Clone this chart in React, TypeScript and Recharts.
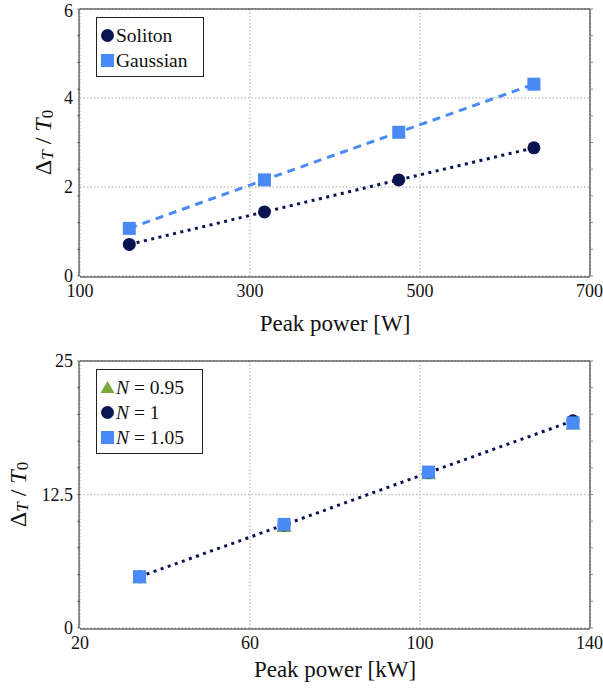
import React from "react";
import {
  ComposedChart,
  Line,
  XAxis,
  YAxis,
  CartesianGrid,
  Legend,
} from "recharts";

// top panel: peak power in W
const powerW = [158, 317, 475, 634];
const solitonSpread = [0.71, 1.44, 2.16, 2.88];
const gaussianSpread = [1.07, 2.16, 3.23, 4.31];
const ticksW = [100, 300, 500, 700];
const ticksSpreadTop = [0, 2, 4, 6];

// bottom panel: peak power in kW
const powerKW = [34, 68, 102, 136];
const spreadN095 = [4.7, 9.5, 14.45, 19.1];
const spreadN1 = [4.8, 9.65, 14.55, 19.4];
const spreadN105 = [4.8, 9.7, 14.6, 19.2];
const ticksKW = [20, 60, 100, 140];
const ticksSpreadBottom = [0, 12.5, 25];

const NAVY = "#0a1450";
const BLUE = "#4a8af7";
const GREEN = "#7aa83a";
const FONT = "Liberation Serif";

const topData = powerW.map((p, i) => ({
  p,
  soliton: solitonSpread[i],
  gaussian: gaussianSpread[i],
}));
const bottomData = powerKW.map((p, i) => ({
  p,
  n095: spreadN095[i],
  n1: spreadN1[i],
  n105: spreadN105[i],
}));

const range = (a: number, b: number, step: number) => {
  const out: number[] = [];
  for (let v = a; v <= b + 1e-9; v += step) out.push(Math.round(v * 1000) / 1000);
  return out;
};

const circleDot = (color: string) => (props: any) => {
  const { cx, cy, index } = props;
  if (cx == null || cy == null) return <g key={index} />;
  return <circle key={index} cx={cx} cy={cy} r={6.5} fill={color} />;
};
const squareDot = (color: string) => (props: any) => {
  const { cx, cy, index } = props;
  if (cx == null || cy == null) return <g key={index} />;
  return <rect key={index} x={cx - 6.5} y={cy - 6.5} width={13} height={13} fill={color} />;
};
const triangleDot = (color: string) => (props: any) => {
  const { cx, cy, index } = props;
  if (cx == null || cy == null) return <g key={index} />;
  return (
    <polygon
      key={index}
      points={`${cx},${cy - 7.5} ${cx + 7.5},${cy + 5.5} ${cx - 7.5},${cy + 5.5}`}
      fill={color}
    />
  );
};

function YTitle({ viewBox, x }: any) {
  const cy = viewBox.y + viewBox.height / 2;
  return (
    <text
      x={x}
      y={cy}
      transform={`rotate(-90, ${x}, ${cy})`}
      textAnchor="middle"
      dominantBaseline="central"
      fontFamily={FONT}
      fontSize={24}
      fill="#111"
    >
      Δ
      <tspan fontStyle="italic" fontSize={17} dy={4}>
        T
      </tspan>
      <tspan dy={-4}> / </tspan>
      <tspan fontStyle="italic">T</tspan>
      <tspan fontSize={17} dy={4}>
        0
      </tspan>
    </text>
  );
}

function XTitle({ viewBox, dy, text }: any) {
  return (
    <text
      x={viewBox.x + viewBox.width / 2}
      y={viewBox.y + dy}
      textAnchor="middle"
      dominantBaseline="central"
      fontFamily={FONT}
      fontSize={23}
      fill="#111"
    >
      {text}
    </text>
  );
}

function LegendBox({ rows, width }: { rows: { marker: React.ReactNode; label: React.ReactNode }[]; width: number }) {
  return (
    <div
      style={{
        boxSizing: "border-box",
        width,
        border: "1px solid #222",
        background: "#fff",
        padding: "5px 4px 3px 3px",
        fontFamily: FONT,
        fontSize: 19.5,
        color: "#111",
      }}
    >
      {rows.map((r, i) => (
        <div key={i} style={{ display: "flex", alignItems: "center", height: 25, whiteSpace: "nowrap" }}>
          <svg width={15} height={15} style={{ marginRight: 1 }}>
            {r.marker}
          </svg>
          <span>{r.label}</span>
        </div>
      ))}
    </div>
  );
}

const tickStyle = { fontFamily: FONT, fontSize: 18, fill: "#111" };
const noLabel = () => <g />;

// minor tick marks on all four sides, plus the top/right frame lines
function minorAxes(xDomain: number[], yDomain: number[], xMinor: number[], yMinor: number[], key: string) {
  const common = {
    type: "number" as const,
    allowDataOverflow: true,
    tick: noLabel,
    tickSize: 3,
    tickLine: { stroke: "#8a8a8a" },
  };
  return [
    <XAxis key="mb" xAxisId="mb" orientation="bottom" height={1} domain={xDomain} ticks={xMinor} axisLine={false} {...common} />,
    <XAxis key="mt" xAxisId="mt" orientation="top" height={1} domain={xDomain} ticks={xMinor} axisLine={{ stroke: "#222" }} {...common} />,
    <YAxis key="ml" yAxisId="ml" orientation="left" width={1} domain={yDomain} ticks={yMinor} axisLine={false} {...common} />,
    <YAxis key="mr" yAxisId="mr" orientation="right" width={1} domain={yDomain} ticks={yMinor} axisLine={{ stroke: "#222" }} {...common} />,
    <Line key="hb" xAxisId="mb" yAxisId="ml" dataKey={key} stroke="none" dot={false} activeDot={false} legendType="none" isAnimationActive={false} />,
    <Line key="ht" xAxisId="mt" yAxisId="mr" dataKey={key} stroke="none" dot={false} activeDot={false} legendType="none" isAnimationActive={false} />,
  ];
}

function TopChart() {
  return (
    <ComposedChart
      width={603}
      height={340}
      data={topData}
      margin={{ top: 8, right: 12, bottom: 0, left: 0 }}
    >
      {minorAxes([100, 700], [0, 6], range(100, 700, 5), range(0, 6, 0.2), "soliton")}
      <CartesianGrid xAxisId="x" yAxisId="y" stroke="#c4c4c4" strokeWidth={1.5} strokeDasharray="1.5 2" />
      <XAxis
        xAxisId="x"
        dataKey="p"
        type="number"
        domain={[100, 700]}
        ticks={ticksW}
        height={63}
        tickSize={0}
        tickMargin={7}
        tick={tickStyle}
        axisLine={{ stroke: "#222" }}
        label={{ content: (p: any) => <XTitle {...p} dy={46} text="Peak power [W]" /> }}
      />
      <YAxis
        yAxisId="y"
        type="number"
        domain={[0, 6]}
        ticks={ticksSpreadTop}
        width={79}
        tickSize={0}
        tickMargin={6}
        tick={tickStyle}
        axisLine={{ stroke: "#222" }}
        label={{ content: (p: any) => <YTitle {...p} x={43} /> }}
      />
      <Legend
        layout="horizontal"
        verticalAlign="middle"
        wrapperStyle={{ left: 96, top: 17, width: "auto" }}
        content={() => (
          <LegendBox
            width={108}
            rows={[
              { marker: <circle cx={7.5} cy={7.5} r={6.5} fill={NAVY} />, label: "Soliton" },
              { marker: <rect x={1} y={1} width={13} height={13} fill={BLUE} />, label: "Gaussian" },
            ]}
          />
        )}
      />
      <Line
        xAxisId="x"
        yAxisId="y"
        dataKey="soliton"
        stroke={NAVY}
        strokeWidth={3}
        strokeDasharray="3 4.5"
        dot={circleDot(NAVY)}
        isAnimationActive={false}
      />
      <Line
        xAxisId="x"
        yAxisId="y"
        dataKey="gaussian"
        stroke={BLUE}
        strokeWidth={3}
        strokeDasharray="8 6"
        dot={squareDot(BLUE)}
        isAnimationActive={false}
      />
    </ComposedChart>
  );
}

function NLabel({ v }: { v: string }) {
  return (
    <>
      <i>N</i> = {v}
    </>
  );
}

function BottomChart() {
  return (
    <ComposedChart
      width={603}
      height={349}
      data={bottomData}
      margin={{ top: 20, right: 12, bottom: 0, left: 0 }}
    >
      {minorAxes([20, 140], [0, 25], range(20, 140, 1), range(0, 25, 0.5), "n1")}
      <CartesianGrid xAxisId="x" yAxisId="y" stroke="#c4c4c4" strokeWidth={1.5} strokeDasharray="1.5 2" />
      <XAxis
        xAxisId="x"
        dataKey="p"
        type="number"
        domain={[20, 140]}
        ticks={ticksKW}
        height={60}
        tickSize={0}
        tickMargin={7}
        tick={tickStyle}
        axisLine={{ stroke: "#222" }}
        label={{ content: (p: any) => <XTitle {...p} dy={40} text="Peak power [kW]" /> }}
      />
      <YAxis
        yAxisId="y"
        type="number"
        domain={[0, 25]}
        ticks={ticksSpreadBottom}
        width={79}
        tickSize={0}
        tickMargin={6}
        tick={tickStyle}
        axisLine={{ stroke: "#222" }}
        label={{ content: (p: any) => <YTitle {...p} x={18} /> }}
      />
      <Legend
        layout="horizontal"
        verticalAlign="middle"
        wrapperStyle={{ left: 96, top: 29, width: "auto" }}
        content={() => (
          <LegendBox
            width={107}
            rows={[
              {
                marker: <polygon points="7.5,1 14.5,13 0.5,13" fill={GREEN} />,
                label: <NLabel v="0.95" />,
              },
              { marker: <circle cx={7.5} cy={7.5} r={6.5} fill={NAVY} />, label: <NLabel v="1" /> },
              { marker: <rect x={1} y={1} width={13} height={13} fill={BLUE} />, label: <NLabel v="1.05" /> },
            ]}
          />
        )}
      />
      <Line
        xAxisId="x"
        yAxisId="y"
        dataKey="n095"
        stroke="none"
        dot={triangleDot(GREEN)}
        isAnimationActive={false}
      />
      <Line
        xAxisId="x"
        yAxisId="y"
        dataKey="n1"
        stroke={NAVY}
        strokeWidth={3}
        strokeDasharray="3 4.5"
        dot={circleDot(NAVY)}
        isAnimationActive={false}
      />
      <Line
        xAxisId="x"
        yAxisId="y"
        dataKey="n105"
        stroke="none"
        dot={squareDot(BLUE)}
        isAnimationActive={false}
      />
    </ComposedChart>
  );
}

export default function App() {
  return (
    <div style={{ position: "absolute", left: 0, top: 0, width: 603, height: 689, background: "#fff" }}>
      <TopChart />
      <BottomChart />
    </div>
  );
}
